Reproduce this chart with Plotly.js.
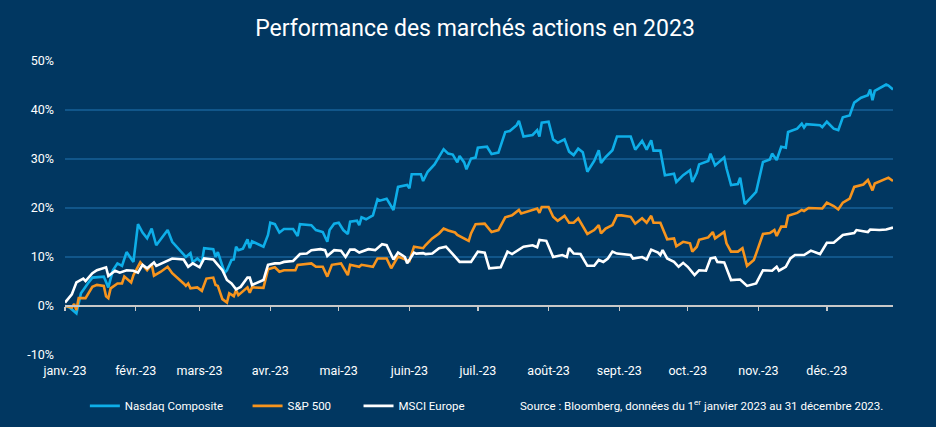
<!DOCTYPE html>
<html>
<head>
<meta charset="utf-8">
<script src="https://cdn.plot.ly/plotly-3.0.1.min.js"></script>
<style>
  html, body { margin: 0; padding: 0; background: #013761; }
  #chart { width: 936px; height: 427px; }
</style>
</head>
<body>
<div id="chart"></div>
<script>
// Day of year (0 = 1 Jan 2023) and cumulative performance (%)
const nasdaqDays = [0,2,5,7,10,12,17,19,21,23,25,27,30,32,34,36,38,40,45,47,53,55,56,58,60,61,65,66,67,70,71,73,74,75,76,78,80,81,82,87,89,90,92,94,96,100,102,103,108,110,113,115,116,118,120,122,124,125,128,129,130,132,135,137,138,141,144,146,150,151,152,156,157,159,162,166,168,170,172,173,175,176,178,180,181,185,187,190,193,195,198,199,201,205,207,208,209,212,214,216,219,221,223,225,227,229,232,234,235,237,240,242,248,250,253,255,257,258,261,263,267,268,271,274,275,277,278,282,283,285,289,290,292,295,296,298,303,306,309,310,312,314,316,317,321,323,324,325,331,332,334,337,339,341,344,346,349,352,353,354,355,360,361,363];
const nasdaqVals = [0,-0.3,-1.5,2.6,4.6,5.8,6.0,3.8,7.3,8.7,8.2,11.0,9.0,16.7,15.0,13.8,15.8,12.4,15.5,13.1,10.0,10.8,8.9,9.7,8.9,11.8,11.6,10.0,11.0,6.8,7.3,9.4,9.5,12.1,11.4,11.7,13.6,11.8,13.2,12.1,14.5,17.0,16.7,15.0,15.7,15.7,14.3,16.7,16.5,15.5,15.1,13.1,15.5,16.8,17.0,15.5,14.7,17.2,17.4,16.5,18.1,17.7,18.5,21.8,21.5,21.9,19.6,24.3,24.7,24.0,26.9,26.9,25.5,27.4,28.9,32.0,31.1,30.9,29.3,30.6,29.3,27.9,30.1,30.3,32.3,32.5,31.0,31.3,35.5,35.7,36.9,37.8,34.6,34.9,35.9,34.6,37.4,37.6,34.0,33.3,34.0,31.5,30.8,32.1,31.4,27.4,29.6,31.8,29.2,30.4,31.8,34.6,34.6,31.9,33.7,31.9,33.8,31.7,31.7,26.7,27.0,25.3,26.7,27.7,25.3,27.2,28.9,29.6,31.1,28.7,30.3,28.1,24.7,24.9,26.2,20.8,23.3,29.4,29.9,31.1,29.8,32.5,32.3,35.5,36.2,37.2,36.4,37.1,36.9,36.5,37.6,36.2,35.9,38.5,38.9,41.5,42.5,43.0,44.2,42.0,43.9,45.2,45.0,44.2];

const spDays = [0,3,4,5,6,9,12,14,17,18,19,20,23,25,26,29,30,33,36,38,39,42,45,47,52,53,54,55,58,60,62,65,66,67,69,71,72,74,75,76,80,81,82,87,89,92,94,96,101,102,108,110,113,115,117,121,124,125,129,130,135,137,141,143,146,150,151,153,157,158,161,164,166,168,171,172,175,177,178,180,184,187,190,193,196,199,200,205,207,208,209,212,214,216,219,221,223,225,229,232,234,235,237,240,242,244,248,250,253,255,257,258,261,264,267,268,271,274,275,277,278,282,284,285,289,290,292,295,297,299,302,303,306,309,311,312,314,316,317,321,323,324,326,332,334,337,339,341,344,346,350,352,354,355,361,363];
const spVals = [0,-0.3,0.4,-0.8,1.6,1.6,3.9,4.3,4.1,2.0,1.6,3.6,4.6,4.6,6.0,4.8,6.3,8.9,7.3,8.5,6.2,7.0,8.0,6.7,4.6,4.1,4.6,3.6,3.8,3.1,5.6,5.8,4.3,4.1,1.4,0.7,2.6,2.0,3.3,2.2,3.8,2.7,3.8,3.7,7.5,7.9,7.0,7.3,7.3,8.4,8.7,8.0,8.0,6.0,8.4,8.7,6.3,8.4,8.0,8.4,8.0,9.7,9.7,7.7,10.1,9.5,9.2,12.1,11.8,12.4,13.8,14.8,15.8,15.4,15.0,14.5,13.8,13.3,14.8,16.7,16.8,15.1,15.5,18.1,18.5,19.6,18.9,19.7,19.9,19.0,20.2,20.2,18.2,17.4,18.4,17.0,17.0,17.9,14.7,15.5,16.5,14.8,15.8,16.5,18.5,18.5,18.2,16.8,17.9,17.0,18.4,17.0,17.0,13.6,13.8,12.2,13.1,12.8,11.1,12.1,13.5,14.0,15.1,13.8,15.1,12.8,11.1,11.1,11.8,8.2,9.4,10.7,14.7,14.9,15.5,14.3,16.2,16.2,18.4,19.0,19.6,19.4,20.0,19.9,21.1,20.4,19.7,21.1,21.9,24.3,24.8,25.7,23.6,25.0,26.2,25.5];

const msciDays = [0,3,4,5,8,9,12,14,18,19,22,24,27,30,32,34,36,39,40,44,47,52,54,56,59,61,65,67,69,71,73,75,77,80,81,82,87,89,92,94,96,100,103,106,108,112,114,115,118,121,123,125,127,129,133,136,139,141,144,146,149,150,153,154,157,158,161,164,167,170,173,178,181,184,186,191,194,196,201,205,207,208,211,214,218,220,221,223,226,229,232,234,236,238,240,242,248,249,253,255,257,260,261,262,264,267,269,271,273,276,278,281,283,285,286,289,292,296,299,303,306,310,312,313,316,318,320,324,327,331,334,337,339,341,346,347,352,353,357,360,363];
const msciVals = [0.7,2.4,3.6,4.8,5.6,5.1,6.7,7.3,7.9,6.1,7.2,6.8,7.3,7.2,6.8,8.4,7.7,8.9,8.2,9.0,9.7,9.5,8.0,8.7,7.9,9.7,9.5,8.4,7.3,5.3,4.6,3.4,3.9,5.8,5.8,4.3,5.3,8.4,8.7,8.7,9.0,9.2,10.6,10.7,11.4,11.6,11.4,10.2,11.4,11.3,10.0,11.5,11.5,10.9,11.6,11.4,12.6,12.4,9.5,10.9,10.0,8.7,10.9,10.7,10.8,10.6,10.7,11.8,12.1,10.6,9.0,9.0,11.1,10.9,7.7,7.9,11.1,10.6,12.1,12.4,12.0,13.5,13.3,10.0,10.4,10.0,11.8,10.7,10.6,8.2,8.2,9.4,9.0,9.7,11.1,10.7,10.4,9.7,10.0,9.5,11.5,10.9,10.4,11.4,9.7,9.0,8.0,8.8,8.0,6.3,7.3,7.2,9.7,9.9,9.0,8.9,5.3,5.4,4.1,4.6,7.3,7.2,8.0,7.2,8.0,9.7,10.4,10.4,11.3,10.6,12.9,12.9,13.8,14.5,14.9,15.5,15.1,15.6,15.5,15.6,16.0];

const monthStarts = [0,31,59,90,120,151,181,212,243,273,304,334];
const monthLabels = ['janv.-23','févr.-23','mars-23','avr.-23','mai-23','juin-23','juil.-23','août-23','sept.-23','oct.-23','nov.-23','déc.-23'];
const yTickVals = [-10,0,10,20,30,40,50];
const yTickText = ['-10%','0%','10%','20%','30%','40%','50%'];

function toDate(d) {
  const t = new Date(Date.UTC(2023, 0, 1) + d * 86400000);
  return t.toISOString().slice(0, 10);
}

const font = 'Roboto, "Noto Sans", "DejaVu Sans", sans-serif';

const series = [
  { name: 'Nasdaq Composite', x: nasdaqDays, y: nasdaqVals, color: '#0eaee8', legend: 'legend' },
  { name: 'S&P 500', x: spDays, y: spVals, color: '#f7941d', legend: 'legend2' },
  { name: 'MSCI Europe', x: msciDays, y: msciVals, color: '#ffffff', legend: 'legend3' }
];
const traces = series.map(s => ({
  type: 'scatter', mode: 'lines', name: s.name, x: s.x.map(toDate), y: s.y,
  legend: s.legend,
  line: { color: s.color, width: 2.6 }, hoverinfo: 'skip'
}));

function legendAt(x) {
  return {
    orientation: 'h', x: x, xanchor: 'left', y: -0.173, yanchor: 'middle',
    font: { family: font, size: 11.5, color: '#ffffff' },
    bgcolor: 'rgba(0,0,0,0)', borderwidth: 0
  };
}

const layout = {
  width: 936, height: 427,
  paper_bgcolor: '#013761', plot_bgcolor: '#013761',
  margin: { l: 65, r: 43, t: 61, b: 72, autoexpand: false },
  font: { family: font, color: '#ffffff', size: 12.5 },
  title: {
    text: 'Performance des marchés actions en 2023',
    font: { family: font, size: 23, color: '#ffffff' },
    x: 0.5075, xanchor: 'center', y: 0.935, yanchor: 'middle'
  },
  xaxis: {
    type: 'date',
    range: [toDate(0), toDate(363)],
    tickvals: monthStarts.map(toDate),
    ticktext: monthLabels,
    anchor: 'free', position: 1 / 6,
    showline: true, linecolor: '#c8c8c8', linewidth: 2,
    ticks: 'outside', ticklen: 4, tickwidth: 1.5, tickcolor: '#c8c8c8',
    ticklabelstandoff: 49,
    showgrid: false, zeroline: false, automargin: false,
    tickfont: { family: font, size: 12.5, color: '#ffffff' }
  },
  yaxis: {
    range: [-10, 50],
    tickvals: yTickVals, ticktext: yTickText,
    showgrid: true, gridcolor: '#11568a', gridwidth: 1.5,
    zeroline: false, showline: false, ticks: '',
    ticklabelstandoff: 10, automargin: false,
    tickfont: { family: font, size: 12.5, color: '#ffffff' }
  },
  showlegend: true,
  legend: legendAt(0.024),
  legend2: legendAt(0.2205),
  legend3: legendAt(0.3545),
  annotations: [{
    xref: 'paper', yref: 'paper', x: 0.99, y: -0.172, xanchor: 'right', yanchor: 'middle',
    showarrow: false,
    text: 'Source : Bloomberg, données du 1<sup>er</sup> janvier 2023 au 31 décembre 2023.',
    font: { family: font, size: 11.5, color: '#ffffff' }
  }]
};

Plotly.newPlot('chart', traces, layout, { displayModeBar: false, staticPlot: true });
</script>
</body>
</html>
